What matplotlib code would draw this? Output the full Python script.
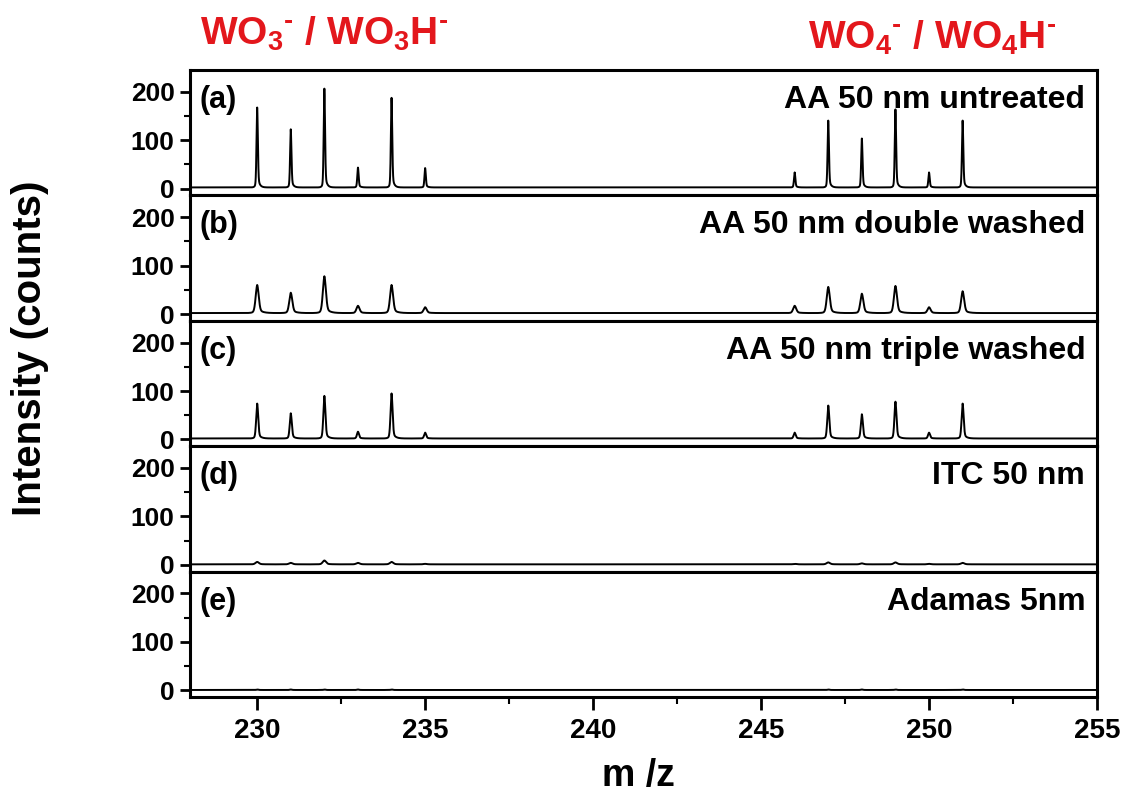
import numpy as np
import matplotlib
matplotlib.use("Agg")
import matplotlib.pyplot as plt
from matplotlib.ticker import MultipleLocator

plt.rcParams['font.family'] = ['Liberation Sans', 'DejaVu Sans']
plt.rcParams['font.weight'] = 'bold'
plt.rcParams['mathtext.fontset'] = 'custom'
plt.rcParams['mathtext.rm'] = 'Liberation Sans:bold'
plt.rcParams['mathtext.bf'] = 'Liberation Sans:bold'
plt.rcParams['mathtext.it'] = 'Liberation Sans:bold'

# peak positions (m/z) and heights (counts)
peak_mz = [230, 231, 232, 233, 234, 235, 246, 247, 248, 249, 250, 251]
h_a = [165, 120, 204, 41, 185, 40, 31, 138, 101, 161, 31, 138]
h_b = [58, 42, 76, 15, 58, 12, 15, 54, 40, 56, 12, 45]
h_c = [72, 52, 88, 14, 93, 12, 12, 68, 50, 76, 12, 72]
h_d = [5, 3, 8, 3, 5, 1, 1, 4, 2, 4, 1, 3]
h_e = [1, 1, 1, 1, 1, 0, 0, 1, 1, 1, 0, 1]
heights = [h_a, h_b, h_c, h_d, h_e]
widths = [0.02, 0.045, 0.03, 0.05, 0.03]   # peak width per panel
baselines = [2.5, 2, 2, 1, 0.5]
panel_tags = ['(a)', '(b)', '(c)', '(d)', '(e)']
sample_names = ['AA 50 nm untreated', 'AA 50 nm double washed',
                'AA 50 nm triple washed', 'ITC 50 nm', 'Adamas 5nm']

mz = np.linspace(228, 255, 8101)


def spectrum(hs, w, base):
    y = np.full_like(mz, base, dtype=float)
    for c, h in zip(peak_mz, hs):
        d = mz - c
        core = np.exp(-0.5 * (d / w) ** 2)
        # broader foot, a bit longer on the high-mass side
        foot = np.where(d > 0, np.exp(-d / (2.5 * w)), np.exp(d / (1.5 * w)))
        y += h * (0.8 * core + 0.2 * foot)
    return y


fig = plt.figure(figsize=(11.27, 8.09), dpi=100)
left, right = 190 / 1127, 1097 / 1127
top, bottom = 1 - 70 / 809, 1 - 697 / 809
ph = (top - bottom) / 5

for i in range(5):
    ax = fig.add_axes([left, top - (i + 1) * ph, right - left, ph])
    ax.plot(mz, spectrum(heights[i], widths[i], baselines[i]), color='black', lw=1.4)
    ax.set_xlim(228, 255)
    ax.set_ylim(-14, 245)
    ax.xaxis.set_major_locator(MultipleLocator(5))
    ax.xaxis.set_minor_locator(MultipleLocator(2.5))
    ax.yaxis.set_major_locator(MultipleLocator(100))
    ax.yaxis.set_minor_locator(MultipleLocator(50))
    for s in ax.spines.values():
        s.set_linewidth(2.2)
    ax.tick_params(axis='y', which='major', direction='out', length=7, width=2,
                   labelsize=19, pad=4)
    ax.tick_params(axis='y', which='minor', direction='out', length=4, width=1.5)
    ax.tick_params(axis='x', which='major', direction='out', length=9, width=2,
                   top=False, bottom=True, labelbottom=False)
    ax.tick_params(axis='x', which='minor', direction='out', length=5, width=1.5,
                   top=False, bottom=True)
    for lab in ax.get_yticklabels():
        lab.set_fontweight('bold')
    ax.text(0.01, 0.76, panel_tags[i], transform=ax.transAxes, fontsize=22,
            fontweight='bold', ha='left', va='center')
    ax.text(0.987, 0.76, sample_names[i], transform=ax.transAxes, fontsize=23,
            fontweight='bold', ha='right', va='center')
    if i == 4:
        ax.tick_params(axis='x', which='both', labelbottom=True, labelsize=20, pad=6)
        for lab in ax.get_xticklabels():
            lab.set_fontweight('bold')

fig.text(0.027, 1 - 348 / 809, 'Intensity (counts)', rotation=90,
         ha='center', va='center', fontsize=29, fontweight='bold')
fig.text(638 / 1127, 1 - 776 / 809, 'm /z', ha='center', va='center',
         fontsize=27, fontweight='bold')

red = '#e3171c'
fig.text(200 / 1127, 1 - 34 / 809, r'WO$_{3}$$^{\text{-}}$ / WO$_{3}$H$^{\text{-}}$',
         color=red, fontsize=28, fontweight='bold', ha='left', va='center')
fig.text(808 / 1127, 1 - 38 / 809, r'WO$_{4}$$^{\text{-}}$ / WO$_{4}$H$^{\text{-}}$',
         color=red, fontsize=28, fontweight='bold', ha='left', va='center')

fig.savefig('out.png', dpi=100)
